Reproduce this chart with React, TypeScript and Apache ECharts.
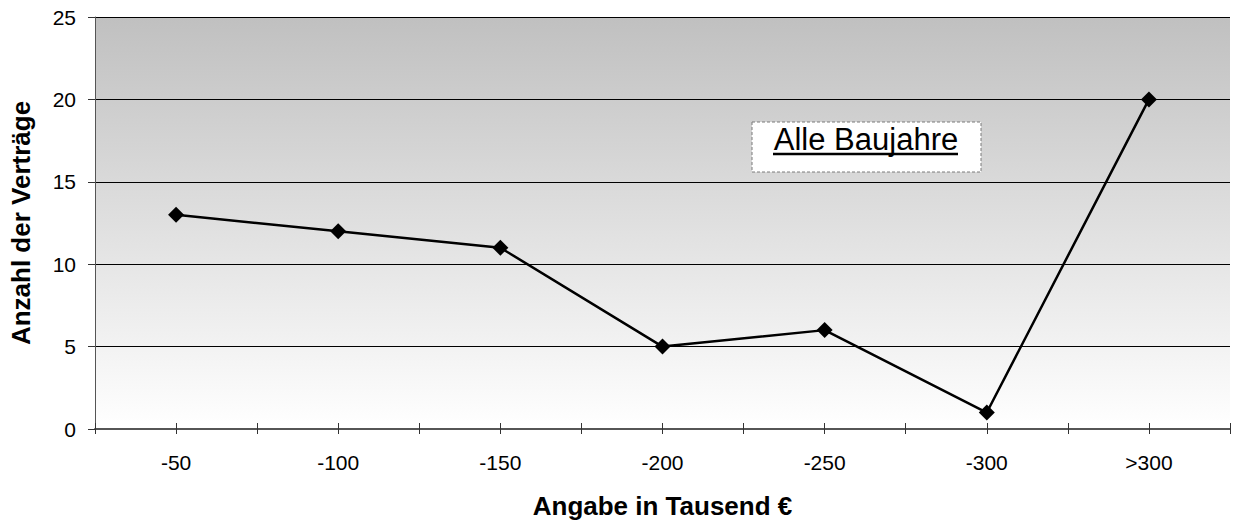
import React, { useEffect, useRef } from "react";
import * as echarts from "echarts";

// Contract sizes (thousand €) and the number of contracts in each band
const categories = ["-50", "-100", "-150", "-200", "-250", "-300", ">300"];
const contractCounts = [13, 12, 11, 5, 6, 1, 20];
const yTicks = { min: 0, max: 25, interval: 5 };

const FONT = "'Liberation Sans', Arial, Helvetica, sans-serif";

export default function App() {
  const ref = useRef<HTMLDivElement>(null);

  useEffect(() => {
    document.body.style.margin = "0";
    document.body.style.overflow = "hidden";
    if (!ref.current) return;
    const chart = echarts.init(ref.current, null, { renderer: "svg" });

    // Categories sit in the middle of each band on a 0..N value axis,
    // so ticks can mark both the band edges and the band centres.
    const points = contractCounts.map((v, i) => [i + 0.5, v]);
    const labelFor = (v: number) => {
      const i = v - 0.5;
      const r = Math.round(i);
      return Math.abs(i - r) < 1e-6 && r >= 0 && r < categories.length ? categories[r] : "";
    };

    const axisCommon = {
      type: "value" as const,
      min: 0,
      max: categories.length,
      interval: 0.5,
      position: "bottom" as const,
      splitLine: { show: false },
    };

    chart.setOption({
      animation: false,
      grid: {
        left: 95,
        top: 17,
        right: -1,
        bottom: 93,
        show: true,
        borderWidth: 0,
        backgroundColor: new echarts.graphic.LinearGradient(0, 0, 0, 1, [
          { offset: 0, color: "#c0c0c0" },
          { offset: 1, color: "#ffffff" },
        ]),
      },
      xAxis: [
        {
          ...axisCommon,
          axisLine: { show: true, lineStyle: { color: "#555", width: 2 } },
          axisTick: { show: true, inside: false, length: 5, lineStyle: { color: "#333" } },
          axisLabel: {
            show: true,
            formatter: labelFor,
            color: "#000",
            fontSize: 21,
            fontFamily: FONT,
            margin: 23,
            showMinLabel: true,
            showMaxLabel: true,
          },
          name: "Angabe in Tausend €",
          nameLocation: "middle",
          nameGap: 64,
          nameTextStyle: { color: "#000", fontSize: 26, fontWeight: "bold", fontFamily: FONT },
        },
        {
          ...axisCommon,
          axisLine: { show: false },
          axisTick: { show: true, inside: true, length: 6, lineStyle: { color: "#333" } },
          axisLabel: { show: false },
        },
      ],
      yAxis: {
        type: "value",
        min: yTicks.min,
        max: yTicks.max,
        interval: yTicks.interval,
        axisLine: { show: true, lineStyle: { color: "#555", width: 1 } },
        axisTick: { show: true, inside: false, length: 7, lineStyle: { color: "#333" } },
        axisLabel: { color: "#000", fontSize: 21, fontFamily: FONT, margin: 19 },
        splitLine: { show: true, lineStyle: { color: "#000", width: 1 } },
        name: "Anzahl der Verträge",
        nameLocation: "middle",
        nameGap: 61,
        nameTextStyle: { color: "#000", fontSize: 26, fontWeight: "bold", fontFamily: FONT },
      },
      series: [
        {
          type: "line",
          xAxisIndex: 0,
          data: points,
          lineStyle: { color: "#000", width: 2.5 },
          itemStyle: { color: "#000" },
          symbol: "diamond",
          symbolSize: [16, 16],
          showAllSymbol: true,
          z: 5,
        },
      ],
      graphic: [
        {
          type: "rect",
          shape: { x: 752, y: 122, width: 229, height: 50 },
          style: { fill: "#ffffff", stroke: "#7a7a7a", lineWidth: 1, lineDash: [3, 2] },
          z: 10,
        },
        {
          type: "text",
          x: 866,
          y: 139,
          style: {
            text: "Alle Baujahre",
            fill: "#000",
            fontSize: 31,
            fontFamily: FONT,
            align: "center",
            verticalAlign: "middle",
          },
          z: 11,
        },
        {
          type: "line",
          shape: { x1: 773, y1: 154, x2: 958, y2: 154 },
          style: { stroke: "#000", lineWidth: 2.5 },
          z: 11,
        },
      ],
    });

    return () => chart.dispose();
  }, []);

  return <div ref={ref} style={{ width: 1233, height: 524 }} />;
}
